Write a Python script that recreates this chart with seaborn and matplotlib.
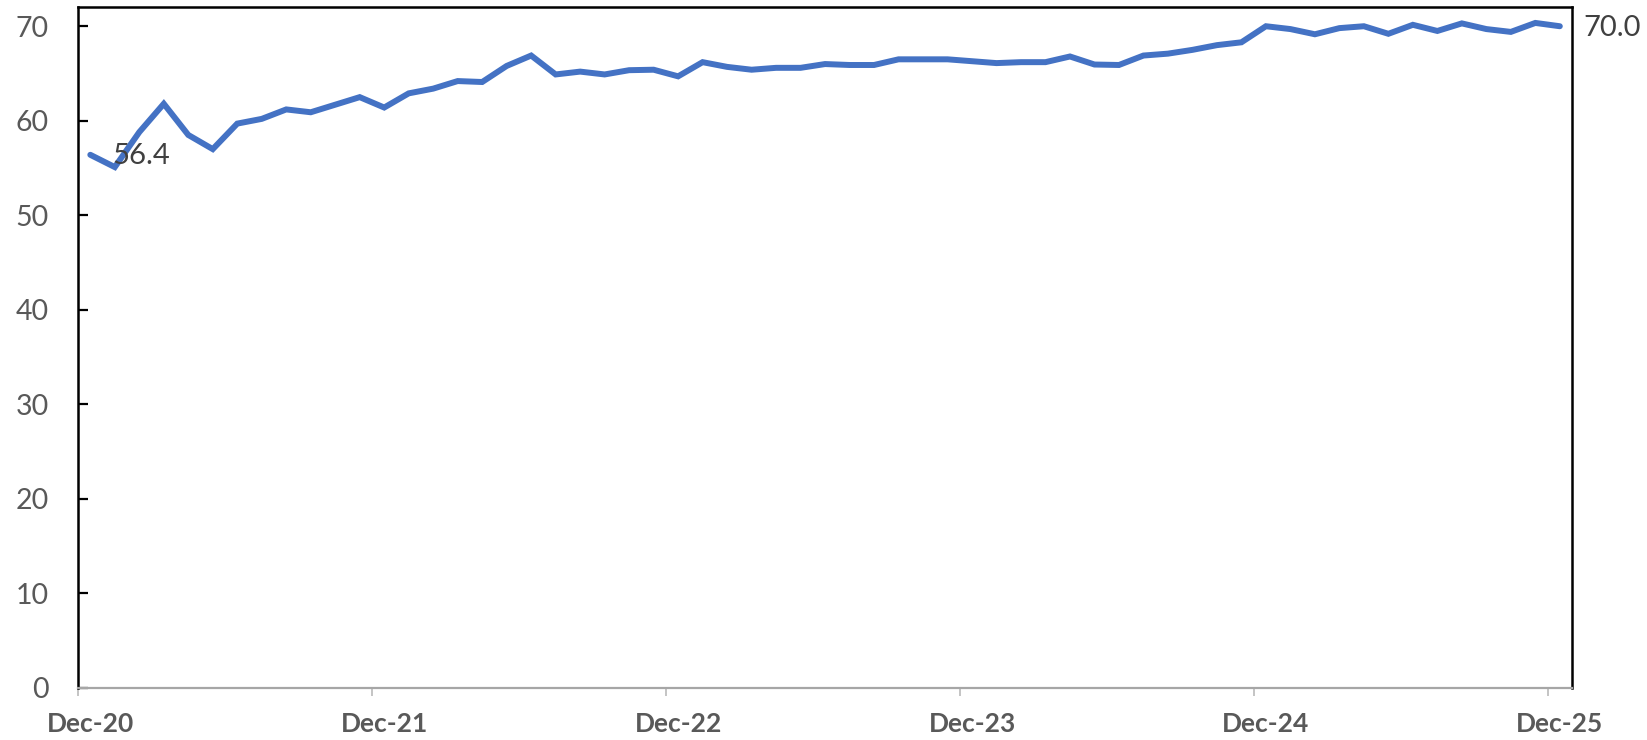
import numpy as np
import pandas as pd
import matplotlib
matplotlib.use("Agg")
import matplotlib.pyplot as plt
import seaborn as sns

# Monthly index readings, Dec-2020 through Dec-2025
values = [
    56.4, 55.1, 58.8, 61.8, 58.5, 57.0, 59.7, 60.2, 61.2, 60.9, 61.7, 62.5,
    61.4, 62.9, 63.4, 64.2, 64.1, 65.8, 66.9, 64.9, 65.2, 64.9, 65.35, 65.4,
    64.7, 66.2, 65.7, 65.4, 65.6, 65.6, 66.0, 65.9, 65.9, 66.5, 66.5, 66.5,
    66.3, 66.1, 66.2, 66.2, 66.8, 65.95, 65.9, 66.9, 67.1, 67.5, 68.0, 68.3,
    70.0, 69.7, 69.15, 69.8, 70.0, 69.2, 70.15, 69.5, 70.3, 69.7, 69.4, 70.35,
    70.0,
]
year_labels = ["Dec-20", "Dec-21", "Dec-22", "Dec-23", "Dec-24", "Dec-25"]
y_ticks = [0, 10, 20, 30, 40, 50, 60, 70]

months = pd.date_range("2020-12-01", periods=len(values), freq="MS")
df = pd.DataFrame({"pos": np.arange(len(values)), "month": months, "value": values})

sns.set_theme(style="white")
plt.rcParams["font.family"] = ["Lato", "DejaVu Sans"]

fig = plt.figure(figsize=(16.47, 7.40), dpi=100)
ax = fig.add_axes([0.0474, 0.0703, 0.9071, 0.9198])

sns.lineplot(data=df, x="pos", y="value", ax=ax, color="#4472C4",
             linewidth=4.3, solid_joinstyle="miter", solid_capstyle="round")

ax.set_xlim(-0.5, len(values) - 0.5)
ax.set_ylim(0, 72)
ax.set_xlabel("")
ax.set_ylabel("")

# category-style x axis: labels on December points, tick marks on boundaries
ax.set_xticks(np.arange(0, len(values), 12))
ax.set_xticklabels(year_labels, fontsize=19, fontweight="bold", color="#595959")
ax.set_xticks(np.arange(-0.5, len(values), 12), minor=True)
ax.tick_params(axis="x", which="major", length=0, pad=17)
ax.tick_params(axis="x", which="minor", length=6, width=1.3, color="#BFBFBF",
               direction="out", bottom=True)

ax.set_yticks(y_ticks)
ax.set_yticklabels([str(t) for t in y_ticks], fontsize=20.5, color="#595959")
ax.tick_params(axis="y", which="major", direction="in", length=7, width=1.6,
               color="black", pad=21, left=True)

for side in ["left", "top", "right"]:
    ax.spines[side].set_color("black")
    ax.spines[side].set_linewidth(1.8)
ax.spines["bottom"].set_color("#A6A6A6")
ax.spines["bottom"].set_linewidth(1.6)

# end-point value labels
first, last = df.iloc[0], df.iloc[-1]
ax.annotate(f"{first.value:.1f}", (first.pos, first.value), xytext=(16, -1),
            textcoords="offset points", ha="left", va="center",
            fontsize=21, color="#404040")
ax.annotate(f"{last.value:.1f}", (last.pos, last.value), xytext=(17, -1),
            textcoords="offset points", ha="left", va="center",
            fontsize=21, color="#404040", annotation_clip=False)

fig.savefig("out.png", dpi=100)
